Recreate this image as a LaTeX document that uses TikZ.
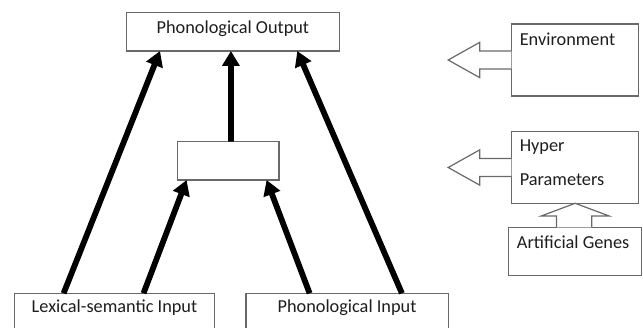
\documentclass[tikz,border=0pt]{standalone}
\usepackage{fontspec}
\setmainfont{Carlito}
\usetikzlibrary{arrows.meta,calc}
\definecolor{boxgray}{RGB}{105,105,105}
\definecolor{txt}{RGB}{30,30,30}
\tikzset{
 box/.style={draw=boxgray, line width=1.2pt, fill=white, inner sep=0pt, outer sep=0pt, rectangle},
 lbl/.style={text=txt, font=\fontsize{18.3}{21}\selectfont, inner sep=0pt},
 conn/.style={line width=5.8pt, -{Triangle[length=15pt,width=17pt]}},
 blockarrow/.style={draw=boxgray, line width=1.2pt, fill=white, line join=miter}
}
\begin{document}
\begin{tikzpicture}[x=1pt,y=-1pt]
\useasboundingbox (0,0) rectangle (643,328);
\clip (0,0) rectangle (643,328);
% boxes
\node[box, minimum width=212.4pt, minimum height=38.3pt, anchor=north west] (po) at (126.7,12.7) {};
\node[box, minimum width=101.7pt, minimum height=38.3pt, anchor=north west] (hid) at (177.2,141.7) {};
\node[box, minimum width=200.1pt, minimum height=60pt, anchor=north west] (lex) at (14.4,293.3) {};
\node[box, minimum width=202.2pt, minimum height=60pt, anchor=north west] (pin) at (246,293.3) {};
\node[box, minimum width=126.7pt, minimum height=72pt, anchor=north west] (env) at (511.4,24) {};
\node[box, minimum width=126.7pt, minimum height=71.6pt, anchor=north west] (hyp) at (511.4,131.7) {};
\node[box, minimum width=133.3pt, minimum height=48pt, anchor=north west] (gen) at (508.5,227.3) {};
% block arrows
\draw[blockarrow] ($(env.west)+(0,-9)$) -- ($(env.west)+(-31.6,-9)$) -- ($(env.west)+(-31.6,-17.7)$)
  -- ($(env.west)+(-63.2,0)$) -- ($(env.west)+(-31.6,17.7)$) -- ($(env.west)+(-31.6,9)$) -- ($(env.west)+(0,9)$);
\draw[blockarrow] ($(hyp.west)+(0,-9)$) -- ($(hyp.west)+(-31.6,-9)$) -- ($(hyp.west)+(-31.6,-17.7)$)
  -- ($(hyp.west)+(-63.2,0)$) -- ($(hyp.west)+(-31.6,17.7)$) -- ($(hyp.west)+(-31.6,9)$) -- ($(hyp.west)+(0,9)$);
\draw[blockarrow] ($(gen.north)+(-18.6,0)$) -- ($(gen.north)+(-18.6,-11.3)$) -- ($(gen.north)+(-34,-11.3)$)
  -- ($(gen.north)+(0,-24)$) -- ($(gen.north)+(34,-11.3)$) -- ($(gen.north)+(16.6,-11.3)$) -- ($(gen.north)+(16.6,0)$);
% labels
\node[lbl] (tpo) at (232.9,28.3) {Phonological Output};
\node[lbl] (tlex) at (114.5,308) {Lexical-semantic Input};
\node[lbl] (tpin) at (347,308) {Phonological Input};
\node[lbl, anchor=west] (tenv) at (519.6,39.3) {Environment};
\node[lbl, anchor=west] (thyp1) at (519.6,146.7) {Hyper};
\node[lbl, anchor=west] (thyp2) at (519.6,180) {Parameters};
\node[lbl, anchor=west] (tgen) at (516.7,242.7) {Artificial Genes};
% connectors
\draw[conn] ($(lex.north west)+(49.2,0)$) -- ($(po.south west)+(33.3,0)$);
\draw[conn] ($(lex.north west)+(129.1,0)$) -- ($(hid.south west)+(9.4,0)$);
\draw[conn] ($(hid.north)+(2.9,0)$) -- ($(po.south west)+(104.2,0)$);
\draw[conn] ($(pin.north west)+(63.6,0)$) -- ($(hid.south west)+(89.4,0)$);
\draw[conn] ($(pin.north west)+(155.9,0)$) -- ($(po.south west)+(170.6,0)$);
\end{tikzpicture}
\end{document}
